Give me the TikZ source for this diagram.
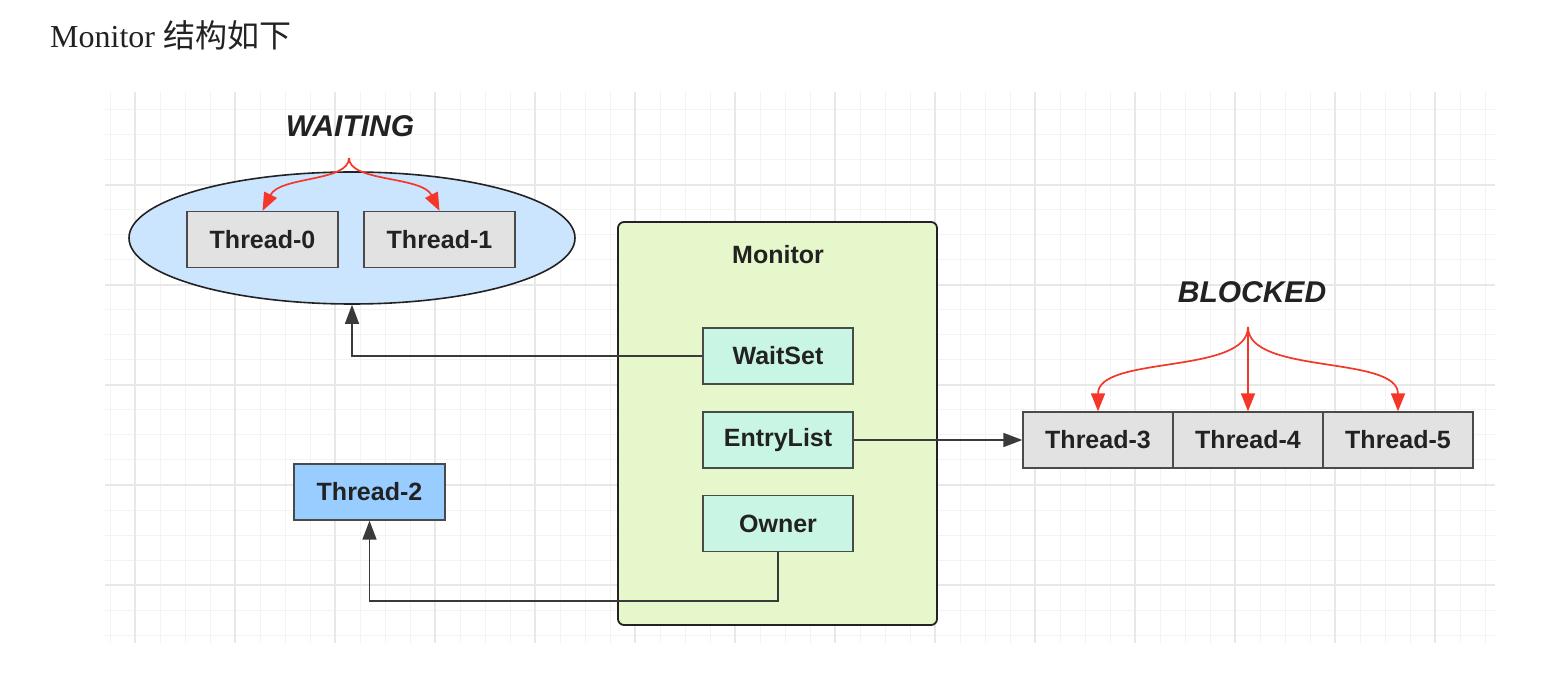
\documentclass[tikz,border=0pt]{standalone}
\usepackage{fontspec}
\setmainfont{Liberation Serif}
\newfontfamily\lsans{Liberation Sans}
\newfontfamily\cjk{Noto Sans CJK SC}
\usetikzlibrary{arrows.meta,shapes.geometric}
\definecolor{gridminor}{HTML}{F3F3F3}
\definecolor{gridmajor}{HTML}{E8E8E8}
\definecolor{greyfill}{HTML}{E2E2E2}
\definecolor{boxline}{HTML}{4A4A4A}
\definecolor{ellfill}{HTML}{CCE5FF}
\definecolor{monfill}{HTML}{E6F8CB}
\definecolor{mintfill}{HTML}{C9F5E4}
\definecolor{bluefill}{HTML}{99CCFF}
\definecolor{redline}{HTML}{F5372A}
\definecolor{txt}{HTML}{222222}
\definecolor{conn}{HTML}{3A3A3A}
\begin{document}
\begin{tikzpicture}[x=1pt,y=-1pt,
  lbl/.style={font=\lsans\bfseries\fontsize{25}{30}\selectfont, text=txt},
  statelbl/.style={font=\lsans\bfseries\itshape\fontsize{30}{36}\selectfont, text=txt},
  boxbase/.style={lbl, draw=boxline, line width=1.3pt, inner sep=0pt, minimum width=151pt, minimum height=56pt},
  thr/.style={boxbase, fill=greyfill},
  part/.style={boxbase, fill=mintfill, minimum width=150pt},
  owner/.style={boxbase, fill=bluefill},
  conn/.style={draw=conn, line width=1.5pt, -{Triangle[length=19pt,width=14pt]}},
  redarrow/.style={draw=redline, line width=1.7pt, -{Triangle[length=18pt,width=14pt]}}
]
\useasboundingbox[fill=white] (0,0) rectangle (1548,684);

% grid
\foreach \x in {110,135,...,1485} \draw[gridminor, line width=1pt] (\x,92) -- (\x,643);
\foreach \y in {110,135,...,635} \draw[gridminor, line width=1pt] (105,\y) -- (1495,\y);
\foreach \x in {135,235,...,1435} \draw[gridmajor, line width=1.2pt] (\x,92) -- (\x,643);
\foreach \y in {185,285,...,585} \draw[gridmajor, line width=1.2pt] (105,\y) -- (1495,\y);

% title
\node[anchor=base west, inner sep=0pt, font=\fontsize{32}{38}\selectfont, text=txt] (title) at (50,48) {Monitor {\cjk 结构如下}};

% waiting set
\node[ellipse, draw=txt, line width=1.6pt, fill=ellfill, minimum width=446pt, minimum height=132pt, inner sep=0pt] (ell) at (352,238) {};
\node[thr] (t0) at (262.5,239.5) {Thread-0};
\node[thr] (t1) at (439.5,239.5) {Thread-1};
\node[statelbl] (waiting) at (350,126) {WAITING};
\coordinate (wtop) at (349,158);
\draw[redarrow] (wtop) .. controls (349,182) and (280,176) .. (t0.north);
\draw[redarrow] (wtop) .. controls (349,182) and (422,176) .. (t1.north);

% monitor
\node[draw=txt, line width=1.8pt, fill=monfill, rounded corners=6pt, minimum width=319pt, minimum height=403pt, inner sep=0pt] (mon) at (777.5,423.5) {};
\node[lbl] (monlbl) at (778,255) {Monitor};
\node[part] (ws) at (778,356) {WaitSet};
\node[part] (el) at (778,440) {EntryList};
\node[part] (ow) at (778,523.5) {Owner};

% thread-2
\node[owner] (t2) at (369.5,492) {Thread-2};

% blocked
\node[thr, minimum width=150pt] (t3) at (1098,440) {Thread-3};
\node[thr, minimum width=150pt] (t4) at (1248,440) {Thread-4};
\node[thr, minimum width=150pt] (t5) at (1398,440) {Thread-5};
\node[statelbl] (blocked) at (1252,292) {BLOCKED};
\coordinate (btop) at (1248,327);
\draw[redarrow] (btop) .. controls (1248,375) and (1098,355) .. (t3.north);
\draw[redarrow] (btop) -- (t4.north);
\draw[redarrow] (btop) .. controls (1248,375) and (1398,355) .. (t5.north);

% connectors
\draw[conn] (ws.west) -- (ws.west -| ell.south) -- (ell.south);
\draw[conn] (el.east) -- (t3.west);
\coordinate (turn) at (778,601);
\draw[conn] (ow.south) -- (turn) -| (t2.south);
\end{tikzpicture}
\end{document}
